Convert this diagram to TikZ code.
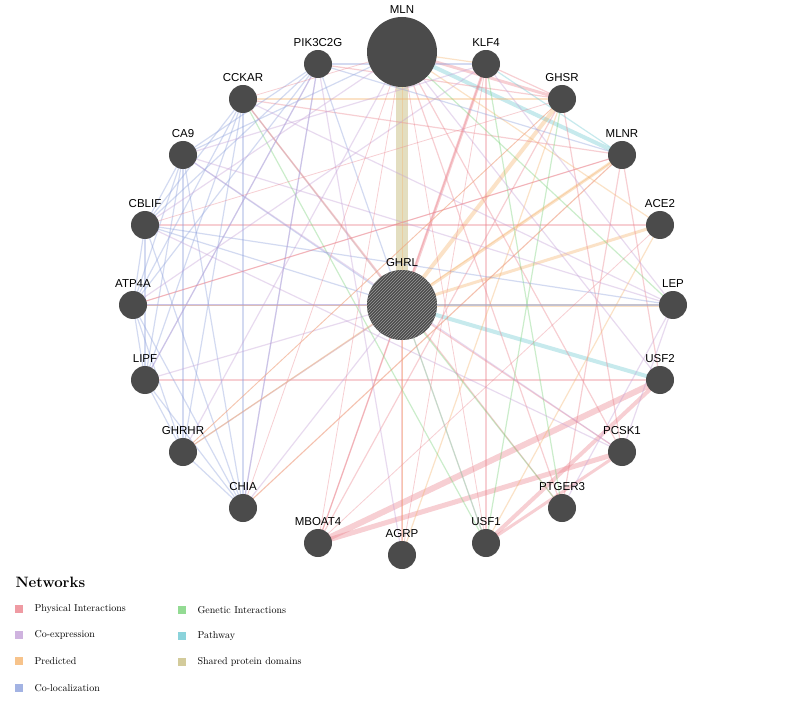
\documentclass[tikz,border=0pt]{standalone}
\usepackage{fontspec}
\newfontfamily\lab{Liberation Sans}
\usetikzlibrary{patterns}
\definecolor{phy}{RGB}{235,130,140}
\definecolor{coe}{RGB}{195,160,215}
\definecolor{pre}{RGB}{245,180,110}
\definecolor{col}{RGB}{140,160,220}
\definecolor{gen}{RGB}{120,210,120}
\definecolor{pat}{RGB}{110,200,210}
\definecolor{spd}{RGB}{200,190,130}
\definecolor{nd}{RGB}{75,75,75}
\tikzset{gene/.style={circle,fill=nd,minimum size=28pt,inner sep=0pt},
big/.style={circle,fill=nd,minimum size=70pt,inner sep=0pt},
glab/.style={font=\lab\fontsize{11.5}{13}\selectfont,above=1pt},
e/.style={line width=1.2pt,draw opacity=0.38},
leg/.style={font=\fontsize{10}{12}\selectfont,anchor=west},
sq/.style={minimum size=8pt,inner sep=0pt,fill opacity=0.8}}
\begin{document}
\begin{tikzpicture}[x=1pt,y=-1pt]
\useasboundingbox (0,0) rectangle (800,703);
\fill[white] (0,0) rectangle (800,703);
\foreach \n/\x/\y in {PIK3C2G/318/64,KLF4/486/64,CCKAR/243/99,GHSR/562/99,CA9/183/155,MLNR/622/155,CBLIF/145/225,ACE2/660/225,ATP4A/133/305,LEP/673/305,LIPF/145/380,USF2/660/380,GHRHR/183/452,PCSK1/622/452,CHIA/243/508,PTGER3/562/508,MBOAT4/318/543,AGRP/402/555,USF1/486/543}
  \coordinate (\n) at (\x,\y);
\coordinate (MLN) at (402,52);
\coordinate (GHRL) at (402,305);
% edges
\begin{scope}[e]
\draw[spd,line width=12pt,draw opacity=0.5] (MLN)--(GHRL);
\draw[phy,line width=6pt] (MBOAT4)--(USF2);
\draw[phy,line width=5pt] (MBOAT4)--(PCSK1);
\draw[phy,line width=4pt] (USF1)--(USF2);
\draw[phy,line width=3pt] (USF1)--(PCSK1);
\draw[pat,line width=4pt] (MLN)--(MLNR);
\draw[phy,line width=3pt] (MLN)--(GHSR);
\draw[pre,line width=4pt] (GHRL)--(GHSR);
\draw[pre,line width=3pt] (GHRL)--(MLNR);
\draw[pat,line width=4pt] (GHRL)--(USF2);
\draw[phy,line width=3pt] (GHRL)--(KLF4);
\draw[pre,line width=3pt] (GHRL)--(ACE2);
\draw[pre,line width=3pt] (GHRL)--(LEP);
\foreach \a/\b in {GHRL/PCSK1,GHRL/MBOAT4,GHRL/AGRP,KLF4/USF1,MLNR/PTGER3,GHSR/MBOAT4,MLN/PCSK1,CCKAR/MLNR,PIK3C2G/GHSR,ATP4A/MLNR,KLF4/MBOAT4,CCKAR/PTGER3,MLN/PTGER3,GHSR/PCSK1,MLNR/USF2,KLF4/GHSR,CBLIF/ACE2,LIPF/USF2}
  \draw[phy] (\a)--(\b);
\foreach \a/\b in {GHRL/GHRHR,GHRL/CCKAR,MLN/KLF4,GHSR/AGRP,MLNR/CHIA,MLN/ACE2,CCKAR/GHSR,ACE2/USF1,GHRL/USF1}
  \draw[pre] (\a)--(\b);
\foreach \a/\b in {GHRL/PTGER3,KLF4/PTGER3,MLN/LEP,CCKAR/USF1,GHSR/USF1}
  \draw[gen] (\a)--(\b);
\foreach \a/\b in {GHRL/USF1,MLNR/KLF4,GHRL/LEP}
  \draw[pat] (\a)--(\b);
\foreach \a/\b in {PIK3C2G/CA9,PIK3C2G/CBLIF,PIK3C2G/ATP4A,PIK3C2G/LIPF,PIK3C2G/CHIA,CCKAR/CBLIF,CCKAR/ATP4A,CCKAR/LIPF,CCKAR/GHRHR,CA9/CBLIF,CA9/ATP4A,CA9/LIPF,CA9/GHRHR,CA9/CHIA,CBLIF/ATP4A,CBLIF/LIPF,CBLIF/CHIA,ATP4A/LIPF,ATP4A/GHRHR,ATP4A/CHIA,LIPF/GHRHR,LIPF/CHIA,GHRHR/CHIA,CA9/GHRL,CBLIF/GHRL,ATP4A/GHRL,PIK3C2G/GHRL,CCKAR/CHIA,CA9/MLN,PIK3C2G/KLF4,PIK3C2G/MLNR,CBLIF/LEP}
  \draw[col] (\a)--(\b);
\foreach \a/\b in {CCKAR/GHRL,CA9/KLF4,CBLIF/MLN,PIK3C2G/AGRP,CCKAR/LEP,LIPF/PIK3C2G,ATP4A/KLF4,GHRHR/MLN,CHIA/PIK3C2G,MLN/USF2,KLF4/LEP,CA9/LEP,LIPF/GHRL,GHRHR/GHRL,CHIA/GHRL,ATP4A/LEP,PCSK1/LEP,PTGER3/LEP,CBLIF/PCSK1,CA9/PCSK1}
  \draw[coe] (\a)--(\b);
\foreach \a/\b in {MLN/CCKAR,MLN/CHIA,MLN/MBOAT4,MLN/USF1,KLF4/AGRP,MLNR/ATP4A,GHSR/CBLIF,ACE2/MBOAT4,GHRHR/GHSR,CHIA/MLNR}
  \draw[phy,line width=0.8pt] (\a)--(\b);
\foreach \a/\b in {MLN/AGRP,MLNR/GHRHR,GHRL/ATP4A,GHRHR/GHSR}
  \draw[pre,line width=0.8pt] (\a)--(\b);
\end{scope}
% nodes
\node[big] (nMLN) at (MLN) {};
\node[glab,yshift=34pt] at (MLN) {MLN};
\node[big,postaction={pattern=north east lines,pattern color=gray!80}] (nGHRL) at (GHRL) {};
\node[glab,yshift=34pt] at (GHRL) {GHRL};
\foreach \n in {PIK3C2G,KLF4,CCKAR,GHSR,CA9,MLNR,CBLIF,ACE2,ATP4A,LEP,LIPF,USF2,GHRHR,PCSK1,CHIA,PTGER3,MBOAT4,AGRP,USF1}{
  \node[gene] (n\n) at (\n) {};
  \node[glab,yshift=13pt] (l\n) at (\n) {\n};}
% legend
\node[anchor=west,font=\bfseries\fontsize{15}{17}\selectfont] (lt) at (12,582) {Networks};
\foreach \c/\t/\x/\y [count=\i] in {phy/Physical Interactions/19/609,coe/Co-expression/19/635,pre/Predicted/19/661,col/Co-localization/19/688,gen/Genetic Interactions/182/610,pat/Pathway/182/636,spd/Shared protein domains/182/662}{
  \node[sq,fill=\c] (s\i) at (\x,\y) {};
  \node[leg] (t\i) at (\x+12,\y) {\t};}
\end{tikzpicture}
\end{document}
